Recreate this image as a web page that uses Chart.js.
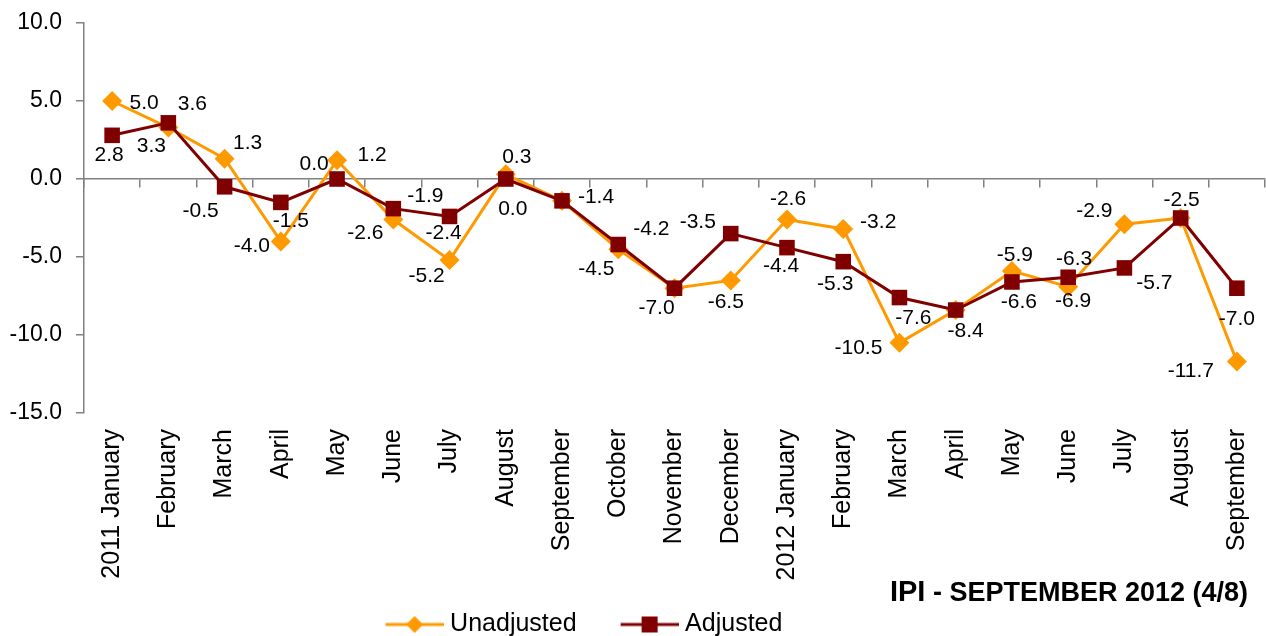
<!DOCTYPE html>
<html>
<head>
<meta charset="utf-8">
<title>IPI - September 2012</title>
<script src="https://cdn.jsdelivr.net/npm/chart.js@4.4.0/dist/chart.umd.min.js"></script>
<style>
    body { margin: 0; background: #ffffff; }
    #contenedor { width: 1266px; height: 636px; }
</style>
</head>
<body>
<div id="contenedor">
    <canvas id="canvasIPI" width="1266" height="636"></canvas>
</div>
<script>
//Datos de la gráfica
const meses = ['2011 January', 'February', 'March', 'April', 'May', 'June', 'July', 'August', 'September',
    'October', 'November', 'December', '2012 January', 'February', 'March', 'April', 'May', 'June',
    'July', 'August', 'September']
const sinAjustar = [5.0, 3.3, 1.3, -4.0, 1.2, -2.6, -5.2, 0.3, -1.4, -4.5, -7.0, -6.5, -2.6, -3.2, -10.5, -8.4, -5.9, -6.9, -2.9, -2.5, -11.7]
const ajustado = [2.8, 3.6, -0.5, -1.5, 0.0, -1.9, -2.4, 0.0, -1.4, -4.2, -7.0, -3.5, -4.4, -5.3, -7.6, -8.4, -6.6, -6.3, -5.7, -2.5, -7.0]
const marcasEjeY = [-15, -10, -5, 0, 5, 10]
//Fin de datos

//Desplazamiento de cada etiqueta respecto a su punto (null = sin etiqueta, se comparte con la otra serie)
const offsetSinAjustar = [[32, 2], [-17, 19], [23, -16], [-29, 5], [35, -5], [-28, 14], [-23, 16], [11, -17], null,
    [-22, 20], null, [-5, 22], [1, -20], [35, -7], [-41, 5], null, [3, -16], [5, 15], [-30, -13], null, [-46, 10]]
const offsetAjustado = [[-3, 20], [24, -19], [-24, 24], [10, 19], [-23, -15], [32, -12], [-6, 17], [7, 30], [34, -4],
    [33, -15], [-18, 20], [-33, -11], [-6, 19], [-8, 23], [14, 21], [10, 21], [7, 20], [6, -18], [30, 15], [1, -18], [0, 31]]

const naranjo = '#FF9900'
const granate = '#800000'
const gris = '#808080'
const fuente = "'Liberation Sans', Arial, sans-serif"

Chart.defaults.font.family = fuente
Chart.defaults.color = '#000000'

//Muestra de leyenda: espacio en blanco a la izquierda + línea con marcador al centro
const muestraLeyenda = (color, forma) => {
    const c = document.createElement('canvas')
    c.width = 88
    c.height = 20
    const g = c.getContext('2d')
    g.strokeStyle = color
    g.lineWidth = 3
    g.beginPath()
    g.moveTo(30, 10)
    g.lineTo(88, 10)
    g.stroke()
    g.fillStyle = color
    g.beginPath()
    if (forma === 'rombo') {
        g.moveTo(59, 1.5)
        g.lineTo(67.5, 10)
        g.lineTo(59, 18.5)
        g.lineTo(50.5, 10)
        g.closePath()
    } else {
        g.rect(51, 2, 16, 16)
    }
    g.fill()
    return c
}

//Plugin para etiquetas de datos
const etiquetasDatos = {
    id: 'etiquetasDatos',
    afterDatasetsDraw(chart) {
        const ctx = chart.ctx
        ctx.save()
        ctx.font = '21px ' + fuente
        ctx.fillStyle = '#000000'
        ctx.textAlign = 'center'
        ctx.textBaseline = 'middle'
        chart.data.datasets.forEach((ds, i) => {
            const meta = chart.getDatasetMeta(i)
            meta.data.forEach((punto, j) => {
                const off = ds.offsets[j]
                if (!off) return
                ctx.fillText(ds.data[j].toFixed(1), punto.x + off[0], punto.y + off[1])
            })
        })
        ctx.restore()
    }
}

//Plugin para el título inferior derecho
const tituloIPI = {
    id: 'tituloIPI',
    afterDraw(chart) {
        const ctx = chart.ctx
        const resto = ' - SEPTEMBER 2012 (4/8)'
        const derecha = chart.chartArea.right - 17
        const base = 601
        ctx.save()
        ctx.fillStyle = '#000000'
        ctx.textBaseline = 'alphabetic'
        ctx.textAlign = 'right'
        ctx.font = 'bold 27px ' + fuente
        ctx.fillText(resto, derecha, base)
        const ancho = ctx.measureText(resto).width
        ctx.font = 'bold 29px ' + fuente
        ctx.fillText('IPI', derecha - ancho, base)
        ctx.restore()
    }
}

// Creación de la gráfica
const ctx = document.getElementById('canvasIPI').getContext('2d')
window.graficoIPI = new Chart(ctx, {
    type: 'line',
    data: {
        labels: meses,
        datasets: [{
            label: 'Unadjusted',
            data: sinAjustar,
            offsets: offsetSinAjustar,
            borderColor: naranjo,
            backgroundColor: naranjo,
            borderWidth: 3,
            pointStyle: 'rectRot',
            pointRadius: 10,
            pointBorderWidth: 0,
            tension: 0,
            order: 2
        },
        {
            label: 'Adjusted',
            data: ajustado,
            offsets: offsetAjustado,
            borderColor: granate,
            backgroundColor: granate,
            borderWidth: 3,
            pointStyle: 'rect',
            pointRadius: 11,
            pointBorderWidth: 0,
            tension: 0,
            order: 1
        }]
    },
    options: {
        responsive: false,
        animation: false,
        layout: {
            autoPadding: false,
            padding: { left: -121, right: 1, top: 23, bottom: -11 }
        },
        plugins: {
            title: { display: false },
            tooltip: { enabled: false },
            legend: {
                position: 'bottom',
                labels: {
                    usePointStyle: true,
                    pointStyleWidth: 76,
                    padding: 20,
                    color: '#000000',
                    font: { size: 25 },
                    generateLabels: (chart) => [
                        { text: 'Unadjusted', pointStyle: muestraLeyenda(naranjo, 'rombo'), fillStyle: naranjo, strokeStyle: naranjo, lineWidth: 0, hidden: false, datasetIndex: 0 },
                        { text: 'Adjusted', pointStyle: muestraLeyenda(granate, 'cuadrado'), fillStyle: granate, strokeStyle: granate, lineWidth: 0, hidden: false, datasetIndex: 1 }
                    ]
                }
            }
        },
        scales: {
            x: {
                type: 'category',
                position: { y: 0 },
                offset: true,
                ticks: { display: false },
                grid: { offset: true, drawOnChartArea: false, drawTicks: true, tickLength: 8, color: gris, lineWidth: 1.5 },
                border: { display: true, color: gris, width: 1.5 }
            },
            xEtiquetas: {
                type: 'category',
                axis: 'x',
                position: 'bottom',
                offset: true,
                grid: { display: true, drawOnChartArea: false, drawTicks: true, tickLength: 14, color: 'rgba(0,0,0,0)' },
                border: { display: false },
                ticks: {
                    autoSkip: false,
                    minRotation: 90,
                    maxRotation: 90,
                    padding: 2,
                    color: '#000000',
                    font: { size: 25, lineHeight: 0.9 }
                },
                afterFit: (scale) => { scale.height = 179 }
            },
            y: {
                position: 'left',
                min: Math.min(...marcasEjeY),
                max: Math.max(...marcasEjeY),
                afterBuildTicks: (scale) => { scale.ticks = marcasEjeY.map(v => ({ value: v })) },
                ticks: {
                    padding: 14,
                    color: '#000000',
                    font: { size: 23, lineHeight: 0.6 },
                    callback: (v) => Number(v).toFixed(1)
                },
                grid: { drawOnChartArea: false, drawTicks: true, tickLength: 8, color: gris, lineWidth: 1.5 },
                border: { display: true, color: gris, width: 1.5 },
                afterFit: (scale) => { scale.width = 205 }
            }
        }
    },
    plugins: [etiquetasDatos, tituloIPI]
})
// Fin de bloque Gráfica
</script>
</body>
</html>
